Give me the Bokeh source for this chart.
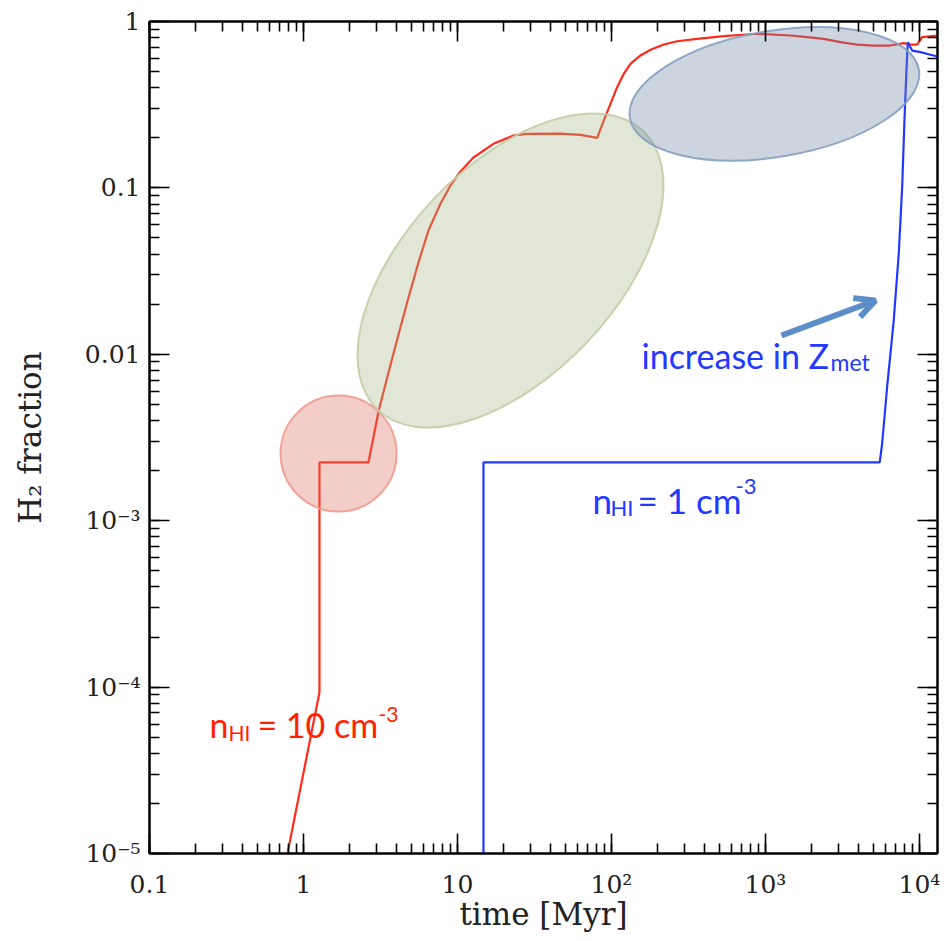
from bokeh.plotting import figure
from bokeh.models import (Range1d, LogAxis, LogTicker, CustomJSTickFormatter,
                          Label, Arrow, OpenHead, ColumnDataSource)
from bokeh.embed import file_html
from bokeh.resources import INLINE

# H2 fraction versus time, n_HI = 10 cm^-3
red_time = [0.787, 1.27, 1.27, 2.64, 3.08, 3.565, 4.14, 4.81, 5.58, 6.48, 7.76,
            9.01, 10.46, 12.70, 17.13, 23.1, 28.5, 46.7, 62.9, 80.8, 89.1, 98.5,
            108.9, 120.2, 132.8, 154.3, 179.2, 218.6, 267.1, 360.1, 535.8,
            883.1, 1452, 1866, 2391, 3069, 3939, 5047, 6482, 7907, 8743, 9661,
            10411, 13090]
red_frac = [1.0e-5, 9.3e-5, 2.24e-3, 2.24e-3, 4.59e-3, 7.78e-3, 0.01315,
            0.02195, 0.0356, 0.0555, 0.0806, 0.1034, 0.1255, 0.1523, 0.184,
            0.2065, 0.2114, 0.212, 0.2085, 0.200, 0.254, 0.320, 0.403, 0.485,
            0.557, 0.625, 0.676, 0.727, 0.761, 0.787, 0.816, 0.844, 0.824,
            0.805, 0.787, 0.751, 0.727, 0.717, 0.717, 0.741, 0.727, 0.727,
            0.805, 0.824]

# H2 fraction versus time, n_HI = 1 cm^-3
blue_time = [14.75, 14.75, 5521, 5727, 6166, 6808, 7338, 7723, 7991, 8234,
             8395, 8967, 10150, 11788, 13090]
blue_frac = [1.0e-5, 2.24e-3, 2.24e-3, 2.91e-3, 6.34e-3, 0.01596, 0.0402,
             0.101, 0.254, 0.508, 0.751, 0.669, 0.654, 0.631, 0.616]

# highlighted phases (centres in data units)
phase_time = [1.69, 22.1, 1143]
phase_frac = [2.53e-3, 0.0319, 0.367]

# decades and tick labels
x_exps = [-1, 0, 1, 2, 3, 4]
x_labels = ["0.1", "1", "10", "10²", "10³", "10⁴"]
y_exps = [0, -1, -2, -3, -4, -5]
y_labels = ["1", "0.1", "0.01", "10⁻³", "10⁻⁴", "10⁻⁵"]

X0, X1 = 0.1, 13100
Y0, Y1 = 1e-5, 1.0

RED = "#ff2a1a"
BLUE = "#2238ff"
INK = "#222222"

p = figure(width=952, height=941, x_axis_type="log", y_axis_type="log",
           x_range=Range1d(X0, X1), y_range=Range1d(Y0, Y1),
           output_backend="svg", toolbar_location=None,
           min_border_left=149, min_border_right=15,
           min_border_top=21, min_border_bottom=88)
p.background_fill_color = "white"
p.border_fill_color = "white"
p.grid.visible = False
p.outline_line_color = "black"
p.outline_line_width = 2


def label_formatter(exps, labels):
    return CustomJSTickFormatter(args=dict(exps=exps, labels=labels), code="""
        const e = Math.round(Math.log10(tick));
        const i = exps.indexOf(e);
        return i >= 0 ? labels[i] : "";
    """)


def style_axis(ax):
    ax.ticker = LogTicker(num_minor_ticks=10)
    ax.axis_line_color = "black"
    ax.axis_line_width = 2
    ax.major_tick_in = 20
    ax.major_tick_out = 0
    ax.minor_tick_in = 10
    ax.minor_tick_out = 0
    ax.major_tick_line_color = "black"
    ax.minor_tick_line_color = "black"
    ax.major_tick_line_width = 1.6
    ax.minor_tick_line_width = 1.6
    ax.major_label_text_font = "DejaVu Serif"
    ax.major_label_text_font_size = "25px"
    ax.major_label_text_color = INK
    ax.axis_label_text_font = "DejaVu Serif"
    ax.axis_label_text_font_size = "31px"
    ax.axis_label_text_font_style = "normal"
    ax.axis_label_text_color = INK


xa, ya = p.xaxis[0], p.yaxis[0]
style_axis(xa)
style_axis(ya)
xa.formatter = label_formatter(x_exps, x_labels)
ya.formatter = label_formatter(y_exps, y_labels)
xa.axis_label = "time [Myr]"
ya.axis_label = "H₂ fraction"
xa.major_label_standoff = 16
ya.major_label_standoff = 9
xa.axis_label_standoff = -6
ya.axis_label_standoff = 34

# mirrored inward ticks on the top and right edges, without labels
for loc in ("above", "right"):
    ax = LogAxis(formatter=CustomJSTickFormatter(code="return '';"))
    style_axis(ax)
    ax.major_label_standoff = 0
    ax.major_label_text_font_size = "1px"
    p.add_layout(ax, loc)

# curves
p.line(red_time, red_frac, line_color=RED, line_width=2.2)
p.line(blue_time, blue_frac, line_color=BLUE, line_width=2.2)

# translucent phase highlights (sized in screen pixels)
src = ColumnDataSource(dict(
    x=phase_time, y=phase_frac,
    w=[116, 385, 293], h=[116, 210, 126], a=[0, 46.4, 9.5],
    fill=["#dd7062", "#a9b88d", "#6d84a6"],
    edge=["#f09a8c", "#c3cda5", "#86a0bf"],
))
p.ellipse(x="x", y="y", width="w", height="h", angle="a", angle_units="deg",
          width_units="screen", height_units="screen", source=src,
          fill_color="fill", fill_alpha=0.35, line_color="edge",
          line_width=2, line_alpha=0.9)

# arrow pointing to the metallicity rise
p.add_layout(Arrow(end=OpenHead(size=20, line_width=6, line_color="#5b8ec8"),
                   x_start=1271, y_start=0.01297, x_end=5176, y_end=0.02105,
                   line_width=6, line_color="#5b8ec8"))

LIFT = 11


def rich_label(x, y, pieces, color):
    for text, dx, dy, size in pieces:
        p.add_layout(Label(x=x, y=y, x_offset=dx, y_offset=dy + LIFT,
                           text=text, text_font="Lato",
                           text_font_size=f"{size}px", text_color=color,
                           text_baseline="alphabetic"))


rich_label(0.245, 5.12e-5,
           [("n", 0, 0, 34), ("HI", 19, -8, 21), ("= 10 cm", 48, 0, 34),
            ("-3", 169, 10, 21)], "#ff2200")
rich_label(75.3, 1.15e-3,
           [("n", 0, 0, 35), ("HI", 18, -8, 22), ("= 1 cm", 45, 0, 35),
            ("-3", 143, 13, 22)], BLUE)
rich_label(156.7, 8.45e-3,
           [("increase in Z", 0, 0, 34), ("met", 189, -7, 23)], BLUE)

open("out.html", "w").write(file_html(p, INLINE))
